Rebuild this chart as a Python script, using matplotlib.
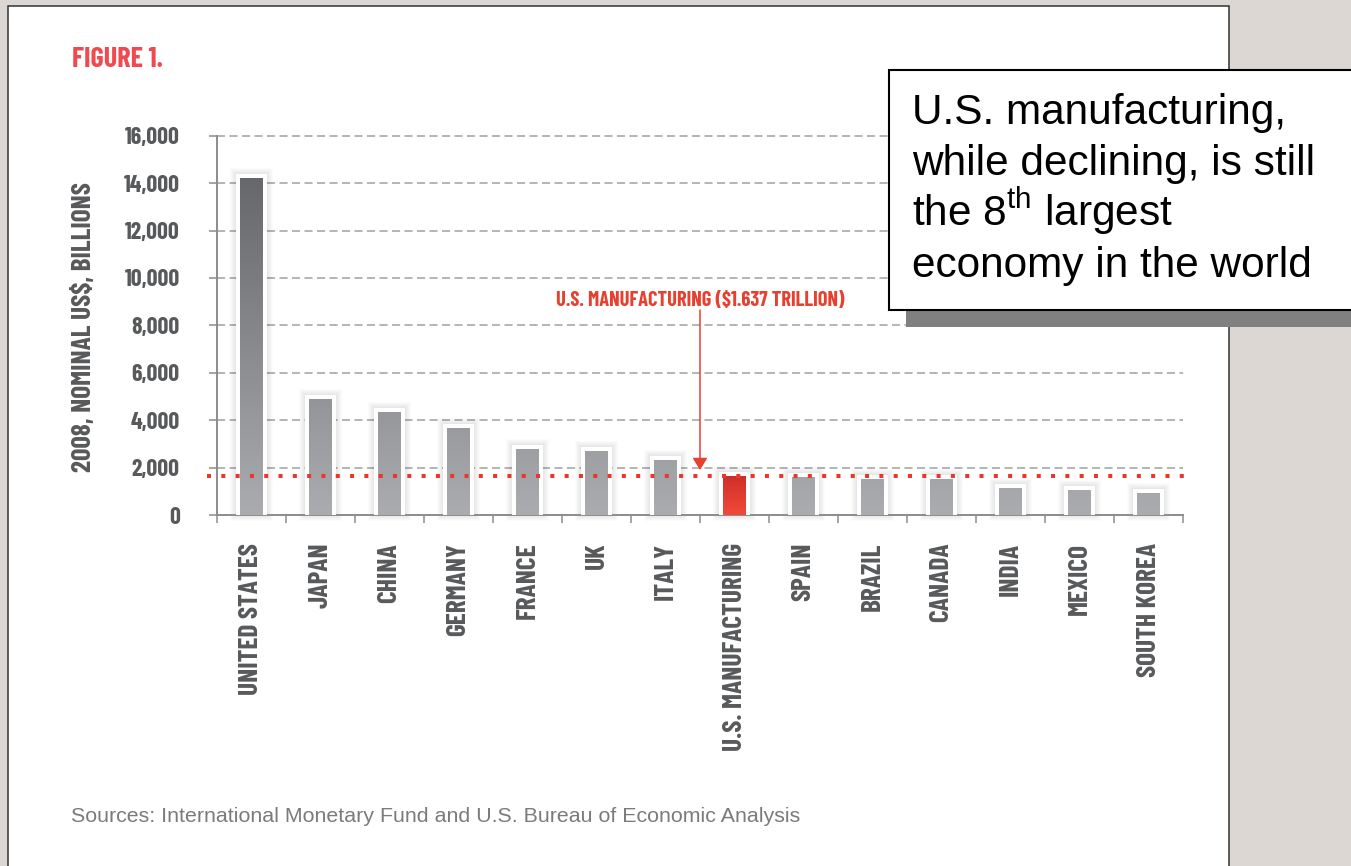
import matplotlib
matplotlib.use("Agg")
import matplotlib.pyplot as plt
import numpy as np
from matplotlib.patches import Rectangle
from matplotlib.colors import LinearSegmentedColormap

# ---- data -----------------------------------------------------------------
categories = ["UNITED STATES", "JAPAN", "CHINA", "GERMANY", "FRANCE", "UK",
              "ITALY", "U.S. MANUFACTURING", "SPAIN", "BRAZIL", "CANADA",
              "INDIA", "MEXICO", "SOUTH KOREA"]
gdp_billions = [14200, 4900, 4350, 3650, 2800, 2700, 2320, 1637, 1620, 1530,
                1510, 1140, 1060, 930]
highlight = "U.S. MANUFACTURING"
us_mfg_value = 1637
y_ticks = list(range(0, 16001, 2000))
y_tick_labels = [f"{v:,}" for v in y_ticks]

callout_lines = ["U.S. manufacturing,",
                 "while declining, is still",
                 "the 8$^{\\mathrm{th}}$ largest",
                 "economy in the world"]

# ---- style ----------------------------------------------------------------
COND = ["Barlow Condensed", "DejaVu Sans"]
plt.rcParams["font.family"] = COND
plt.rcParams["lines.scale_dashes"] = False
plt.rcParams["mathtext.fontset"] = "custom"
plt.rcParams["mathtext.rm"] = "Liberation Sans"

W, H = 1351, 866
fig = plt.figure(figsize=(W / 100, H / 100), dpi=100)
fig.patch.set_facecolor("#dcd7d3")
renderer = fig.canvas.get_renderer()


def fx(px):
    return px / W


def fy(py):
    return 1 - py / H


def fit_size(text, target_px, **kw):
    """Font size (pt) at which `text` spans `target_px` pixels horizontally."""
    probe = fig.text(0, 0, text, fontsize=20, **kw)
    width = probe.get_window_extent(renderer).width
    probe.remove()
    return 20 * target_px / width


# white page panel
fig.patches.append(Rectangle((fx(8), fy(880)), fx(1228.5) - fx(8), fy(6) - fy(880),
                             transform=fig.transFigure, facecolor="white",
                             edgecolor="#333333", lw=1.1, zorder=-1))

ax_left, ax_right, ax_bottom, ax_top = 217, 1183, 515, 135.7
ax = fig.add_axes([fx(ax_left), fy(ax_bottom), (ax_right - ax_left) / W,
                   (ax_bottom - ax_top) / H])
ax.set_facecolor("none")

n = len(categories)
xs = np.arange(n)
xlim = (-0.5, n - 0.5)
ylim = (0, y_ticks[-1])
dx = (xlim[1] - xlim[0]) / (ax_right - ax_left)   # data units per pixel
dy = (ylim[1] - ylim[0]) / (ax_bottom - ax_top)

# dashed grid lines
for v in y_ticks[1:]:
    ax.axhline(v, color="#a0a0a0", lw=1.1, linestyle=(0, (5.8, 3.2)),
               zorder=1, clip_on=False)

# bars with white frame, soft shadow and vertical gradient fill
bar_w = 0.32
pad = 4
grad = np.linspace(0, 1, 256).reshape(-1, 1)
gray_cmap = LinearSegmentedColormap.from_list("bar_gray", ["#abacaf", "#5e5f62"])
red_cmap = LinearSegmentedColormap.from_list("bar_red", ["#f24a3a", "#cf2e28"])

for i, (name, v) in enumerate(zip(categories, gdp_billions)):
    for k in range(1, 7):
        ax.add_patch(Rectangle((i - bar_w / 2 - (pad + k) * dx, -k * dy),
                               bar_w + 2 * (pad + k) * dx, v + (pad + 2 * k) * dy,
                               facecolor="black", alpha=0.016, lw=0, zorder=2,
                               clip_on=False))
    ax.add_patch(Rectangle((i - bar_w / 2 - pad * dx, 0), bar_w + 2 * pad * dx,
                           v + pad * dy, facecolor="white", lw=0, zorder=3))
    bar = ax.bar(i, v, width=bar_w, color="none", lw=0, zorder=4)[0]
    if name == highlight:
        im = ax.imshow(grad, extent=(i - bar_w / 2, i + bar_w / 2, 0, v),
                       origin="lower", cmap=red_cmap, aspect="auto", zorder=4)
    else:
        im = ax.imshow(grad, extent=(xlim[0], xlim[1], ylim[0], ylim[1]),
                       origin="lower", cmap=gray_cmap, aspect="auto", zorder=4)
    im.set_clip_path(bar)

ax.set_xlim(*xlim)
ax.set_ylim(*ylim)

# red dotted reference line at U.S. manufacturing output
ax.plot([xlim[0] - 10 * dx, xlim[1] + 2 * dx], [us_mfg_value, us_mfg_value],
        color="#e8382e", lw=2.9, linestyle=(0, (2.9, 7.4)),
        dash_capstyle="butt", zorder=6, clip_on=False)

# red label and arrow
red = "#e8402f"
mfg_label = f"U.S. MANUFACTURING (${us_mfg_value / 1000:.3f} TRILLION)"
ax.text(6.5, 8800, mfg_label, ha="center", va="baseline",
        fontsize=fit_size(mfg_label, 288, fontweight="bold"),
        fontweight="bold", color=red, zorder=7)
ax.annotate("", xy=(6.5, 1900), xytext=(6.5, 8650),
            arrowprops=dict(arrowstyle="-|>,head_length=0.45,head_width=0.28",
                            color=red, lw=1.1, shrinkA=0, shrinkB=0,
                            mutation_scale=16), zorder=7)

# axes styling
for s in ("top", "right"):
    ax.spines[s].set_visible(False)
for s in ("left", "bottom"):
    ax.spines[s].set_color("#8c8c8c")
    ax.spines[s].set_linewidth(1.4)

tick_color = "#58595b"
ax.set_yticks(y_ticks)
ax.set_yticklabels(y_tick_labels, fontweight="bold", color=tick_color,
                   fontsize=fit_size("16,000", 55, fontweight="bold"))
ax.tick_params(axis="y", length=5.8, width=1.1, color="#8c8c8c", pad=21)

ax.set_xticks(xs)
ax.set_xticklabels(categories, rotation=90, fontweight="bold", color=tick_color,
                   ha="center", va="top",
                   fontsize=fit_size("UNITED STATES", 152, fontweight="bold"))
ax.tick_params(axis="x", which="major", length=0, pad=20)
ax.set_xticks(np.arange(xlim[0], xlim[1] + 0.01, 1), minor=True)
ax.tick_params(axis="x", which="minor", length=5.8, width=1.1, color="#8c8c8c")

# titles and notes
fig.text(fx(72), fy(66.7), "FIGURE 1.", fontweight="bold",
         fontsize=fit_size("FIGURE 1.", 91, fontweight="bold"),
         color="#ee4a4f", va="baseline", ha="left")
ylab = "2008, NOMINAL US$, BILLIONS"
fig.text(fx(84), fy(327.5), ylab, rotation=90, ha="center", va="center",
         fontsize=fit_size(ylab, 289, fontweight="bold"),
         fontweight="bold", color=tick_color)
fig.text(fx(71), fy(822), "Sources: International Monetary Fund and U.S. Bureau of Economic Analysis",
         family="Liberation Sans", fontsize=15.4, color="#7a7b7e",
         va="baseline", ha="left")

# callout box with drop shadow
fig.patches.append(Rectangle((fx(906), fy(326.7)), fx(1380) - fx(906), fy(86) - fy(326.7),
                             transform=fig.transFigure, facecolor="#808080",
                             lw=0, zorder=10))
fig.patches.append(Rectangle((fx(889), fy(310)), fx(1380) - fx(889), fy(70) - fy(310),
                             transform=fig.transFigure, facecolor="white",
                             edgecolor="black", lw=1.5, zorder=11))
baselines = [124.3, 175, 225.7, 277]
for line, b in zip(callout_lines, baselines):
    fig.text(fx(912), fy(b), line, family="Liberation Sans", fontsize=30.5,
             color="black", va="baseline", ha="left", zorder=12)

fig.savefig("out.png", dpi=100, facecolor=fig.get_facecolor())
